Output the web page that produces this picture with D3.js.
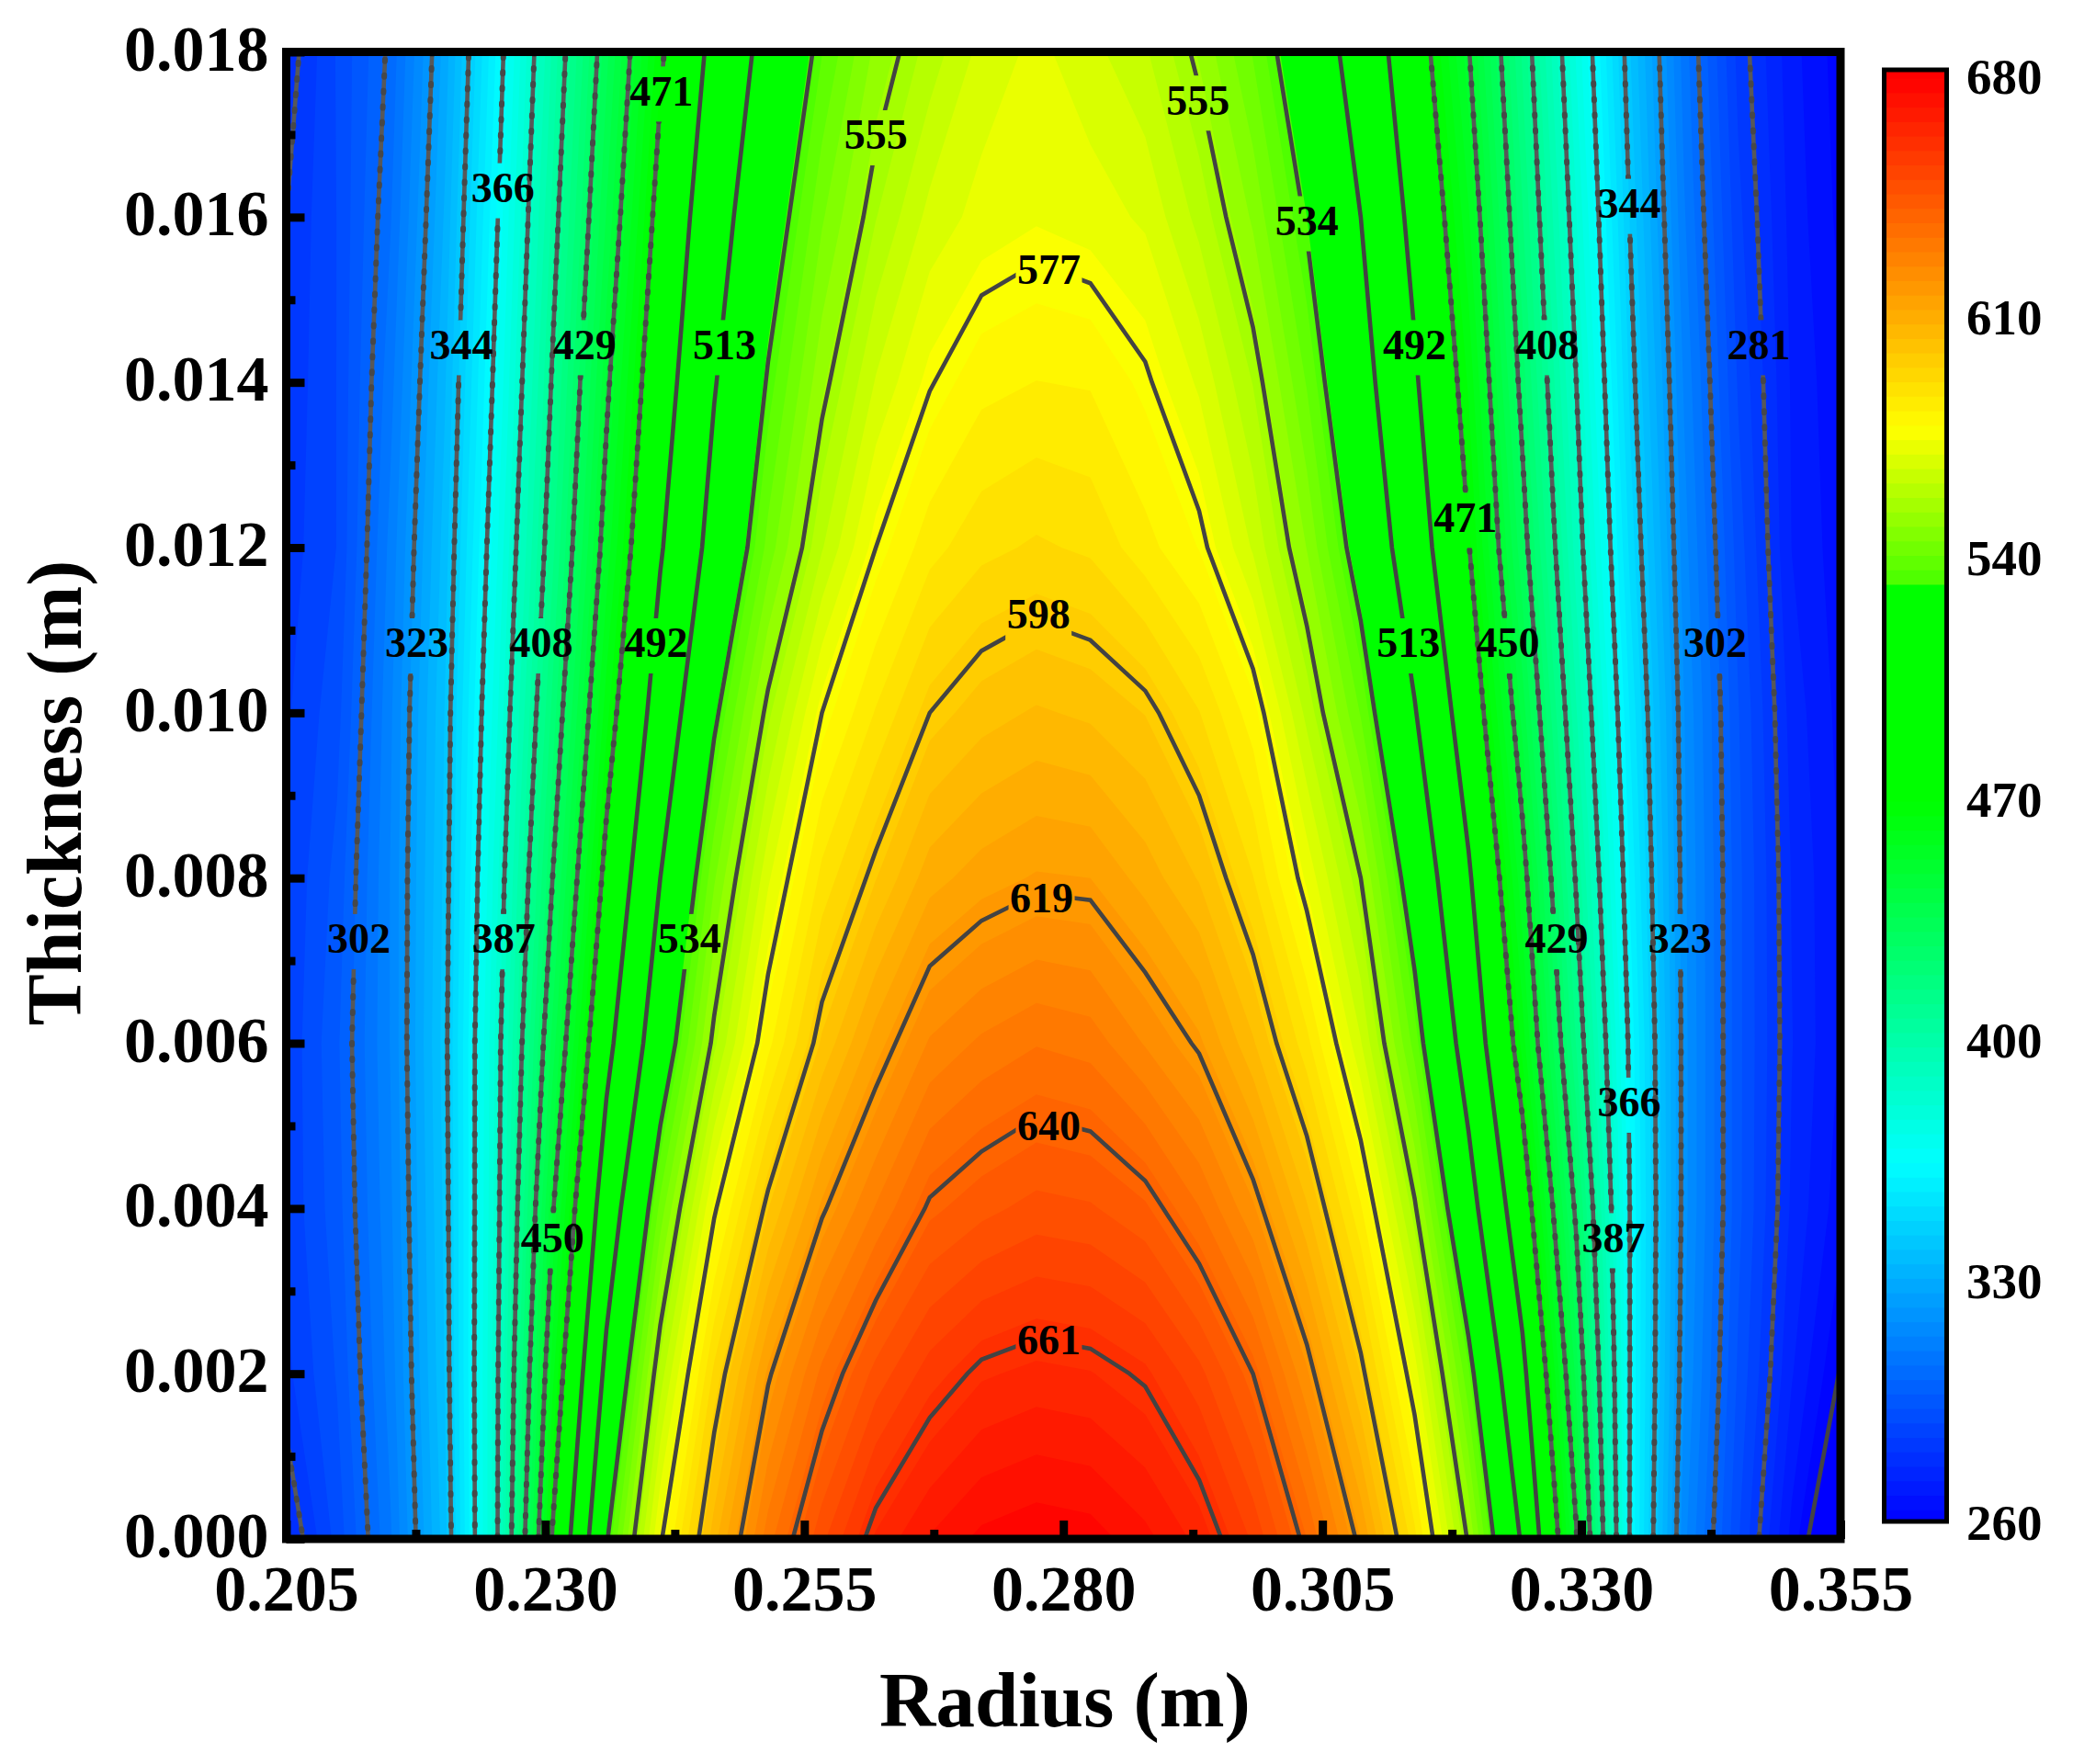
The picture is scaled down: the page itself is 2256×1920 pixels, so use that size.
<!DOCTYPE html>
<html><head><meta charset="utf-8">
<script src="https://cdn.jsdelivr.net/npm/d3@7"></script>
<style>html,body{margin:0;padding:0;background:#fff}svg{display:block}text{font-family:"Liberation Serif",serif;font-weight:bold;fill:#000}</style>
</head><body><svg id="chart" width="2256" height="1920"></svg>
<script>
// Radius grid nodes (m)
const radii=[.205,.2099,.2151,.2203,.2255,.2307,.2359,.2411,.2463,.2515,.2567,.2619,.2671,.2721,.2774,.2826,.2879,.2931,.2983,.3035,.3087,.3139,.3191,.3243,.3295,.3347,.3399,.3451,.3503,.355];
// Thickness grid nodes (m)
const thicknesses=[0,.002,.004,.006,.008,.010,.012,.014,.016,.018];
// Temperature at each radius node, listed from thickness 0 to 0.018
const temperature=[
[276,284,286,286,285.5,284.5,283,282,281,278],
[291,294,296,297,295,292,289.5,289.5,289.5,289.8],
[310,312.5,314,315,315,314,312,309,306,303.4],
[338,340,341,342,341,340,337.6,335,332,329],
[388,387.5,386,385,382,378,374,370,366.5,362.7],
[472,460,449,438,429,421,414,409,404,399.4],
[533,517,502,487,475,464,454.6,448,441,435],
[576,560,543,525,513,501,490.5,483,476,469],
[607,593,576,557,545,532,519.5,512,505,497],
[632,618,600,582,570,557,543,535,527,519.6],
[649.5,635,618,601,589,577,562,553,545,537],
[664,648,630,615,600,588,577,567,558,551],
[672,657,641,626,611,598,586,576.5,568,560],
[677,662.5,645,630.5,615,602.5,590.5,582,572.5,568],
[679,664.5,648,633.5,617.5,605,592.5,583.5,574.5,572],
[678,663.5,647,632,617,603.5,591,583,573,568],
[673,660,643,625,611,600,585,578,570,563],
[666,652,634,618,604,592,579,570,561,553.4],
[654,640,622,605,592,581,566,558,549,541],
[638,622,605,589,574,561,549.6,541,533,525],
[617,600,584,567,555,541,528.4,520,513,505],
[589,573,556,539.5,527,514,501.8,494,487,479.4],
[554,538,520,505,494,482,471.6,465,458,450.6],
[511,496,480,464,454,443,433,426,420,414.6],
[451,439,427,415,407,399,392,387,382,377],
[365,365.5,365.5,364,360,356,351,347,343.5,340],
[316,319,320.5,320.5,320,319,316.5,314,311,308.4],
[290,293,295,295,295,294,291.7,289,286.5,284],
[267,273,276,277,276.5,275,272.5,272,271,270],
[246,259.5,266,268,268,267,266,265,263,262]];
const lineLevels=[260,281,302,323,344,366,387,408,429,450,471,492,513,534,555,577,598,619,640,661];
// Contour labels: level, radius, thickness
const contourLabels=[[471,.2412,.01749],[555,.2619,.01696],[555,.2930,.01738],[366,.2259,.01632],[344,.3346,.01613],[534,.3035,.01592],[577,.2786,.01533],[344,.2219,.01442],[429,.2338,.01442],[513,.2473,.01442],[492,.3139,.01442],[408,.3267,.01442],[281,.3471,.01442],[471,.3188,.01233],[598,.2776,.01116],[323,.2176,.01081],[408,.2296,.01081],[492,.2407,.01081],[513,.3133,.01081],[450,.3229,.01081],[302,.3429,.01081],[619,.2779,.00772],[302,.2120,.00723],[387,.2260,.00723],[534,.2439,.00723],[429,.3276,.00723],[323,.3395,.00723],[366,.3346,.00525],[640,.2786,.00497],[450,.2307,.00361],[387,.3331,.00361],[661,.2786,.00237]];
const xMajor=[.205,.23,.255,.28,.305,.33,.355];
const xMinor=[.2175,.2425,.2675,.2925,.3175,.3425];
const yMajor=[0,.002,.004,.006,.008,.010,.012,.014,.016,.018];
const yMinor=[.001,.003,.005,.007,.009,.011,.013,.015,.017];
const barTicks=[260,330,400,470,540,610,680];
const colorValues=[260,365,470,533,533.01,578,680];
const colorStops=["#0000ff","#00ffff","#00ff00","#00ff00","#46ff00","#ffff00","#ff0000"];
const fillStep=4.2;

const svg=d3.select("#chart");
const x=d3.scaleLinear().domain([.205,.355]).range([311.5,2003]);
const y=d3.scaleLinear().domain([0,.018]).range([1675,56.5]);
const color=d3.scaleLinear().domain(colorValues).range(colorStops).clamp(true);
const nx=radii.length, ny=thicknesses.length;
const flat=[];
for(let j=0;j<ny;j++)for(let i=0;i<nx;i++)flat.push(temperature[i][j]);
const colIdx=d3.scaleLinear().domain(radii.map((_,i)=>i)).range(radii).clamp(true);
const rowIdx=d3.scaleLinear().domain(thicknesses.map((_,i)=>i)).range(thicknesses).clamp(true);
const path=d3.geoPath(d3.geoTransform({point(a,b){this.stream.point(x(colIdx(a-.5)),y(rowIdx(b-.5)))}}));
const fillLevels=d3.range(260,680,fillStep);
const contours=d3.contours().size([nx,ny]);

const defs=svg.append("defs");
defs.append("clipPath").attr("id","plotClip").append("rect").attr("x",x(.205)).attr("y",y(.018)).attr("width",x(.355)-x(.205)).attr("height",y(0)-y(.018));

const plot=svg.append("g").attr("clip-path","url(#plotClip)");
plot.append("rect").attr("x",x(.205)).attr("y",y(.018)).attr("width",x(.355)-x(.205)).attr("height",y(0)-y(.018)).attr("fill",color(260));
plot.append("g").selectAll("path").data(contours.thresholds(fillLevels)(flat)).join("path")
  .attr("d",path).attr("fill",d=>color(d.value+fillStep/2));

// contour lines, each broken only where its own labels sit
const labelW=72,labelH=60;
lineLevels.forEach(lv=>{
  const m=defs.append("mask").attr("id","m"+lv).attr("maskUnits","userSpaceOnUse").attr("x",0).attr("y",0).attr("width",2256).attr("height",1920);
  m.append("rect").attr("width",2256).attr("height",1920).attr("fill","#fff");
  contourLabels.filter(l=>l[0]===lv).forEach(l=>{
    m.append("rect").attr("x",x(l[1])-labelW/2).attr("y",y(l[2])-labelH/2).attr("width",labelW).attr("height",labelH).attr("fill","#000");
  });
  const c=contours.thresholds([lv])(flat)[0];
  const g=plot.append("g").attr("mask",`url(#m${lv})`);
  g.append("path").datum(c).attr("d",path).attr("fill","none").attr("stroke",lv<=471&&lv>260?"#585858":"#434343").attr("stroke-width",4.6);
  if(lv>=281&&lv<=471){
    g.append("path").datum(c).attr("d",path).attr("fill","none").attr("stroke","#484848").attr("stroke-width",6).attr("stroke-linecap","round").attr("stroke-dasharray","2 15");
  }
});
const fmt=d3.format(".0f");
plot.append("g").selectAll("text").data(contourLabels).join("text")
  .attr("x",l=>x(l[1])).attr("y",l=>y(l[2])).attr("dy",".27em").attr("text-anchor","middle").attr("font-size",46)
  .text(l=>fmt(l[0]));

// axes
function styleAxis(g){g.select(".domain").remove();g.selectAll("line").attr("stroke","#000").attr("stroke-width",9);}
svg.append("g").attr("transform",`translate(0,${y(0)})`).call(d3.axisBottom(x).tickValues(xMinor).tickSize(-10).tickFormat("")).call(styleAxis);
svg.append("g").attr("transform",`translate(${x(.205)},0)`).call(d3.axisLeft(y).tickValues(yMinor).tickSize(-10).tickFormat("")).call(styleAxis);
const gx=svg.append("g").attr("transform",`translate(0,${y(0)})`).call(d3.axisBottom(x).tickValues(xMajor).tickSize(-20).tickPadding(28).tickFormat(d3.format(".3f"))).call(styleAxis);
const gy=svg.append("g").attr("transform",`translate(${x(.205)},0)`).call(d3.axisLeft(y).tickValues(yMajor).tickSize(-20).tickPadding(19).tickFormat(d3.format(".3f"))).call(styleAxis);
[gx,gy].forEach(g=>g.selectAll("text").attr("font-size",70).attr("font-family","Liberation Serif").attr("font-weight","bold"));
gy.selectAll("text").attr("dy",".28em");
svg.append("rect").attr("x",x(.205)).attr("y",y(.018)).attr("width",x(.355)-x(.205)).attr("height",y(0)-y(.018)).attr("fill","none").attr("stroke","#000").attr("stroke-width",9);

svg.append("text").attr("x",1159).attr("y",1879).attr("text-anchor","middle").attr("font-size",85).text("Radius (m)");
svg.append("text").attr("transform","translate(88,863) rotate(-90)").attr("text-anchor","middle").attr("font-size",84).text("Thickness (m)");

// colour bar
const bar=d3.scaleLinear().domain([260,680]).range([1658.5,84.6]);
const barG=svg.append("g");
const barBands=d3.range(260,682,fillStep);
barG.selectAll("rect").data(barBands).join("rect")
  .attr("x",2050).attr("width",68)
  .attr("y",d=>Math.max(76,bar(d+fillStep))).attr("height",d=>Math.min(1656,bar(d))-Math.max(76,bar(d+fillStep))+1)
  .attr("fill",d=>color(d+fillStep/2));
svg.append("rect").attr("x",2050.5).attr("y",76).attr("width",68).attr("height",1580).attr("fill","none").attr("stroke","#000").attr("stroke-width",5);
svg.append("g").selectAll("text").data(barTicks).join("text")
  .attr("x",2140).attr("y",d=>bar(d)).attr("dy",".31em").attr("font-size",55).text(d=>d);
</script></body></html>
